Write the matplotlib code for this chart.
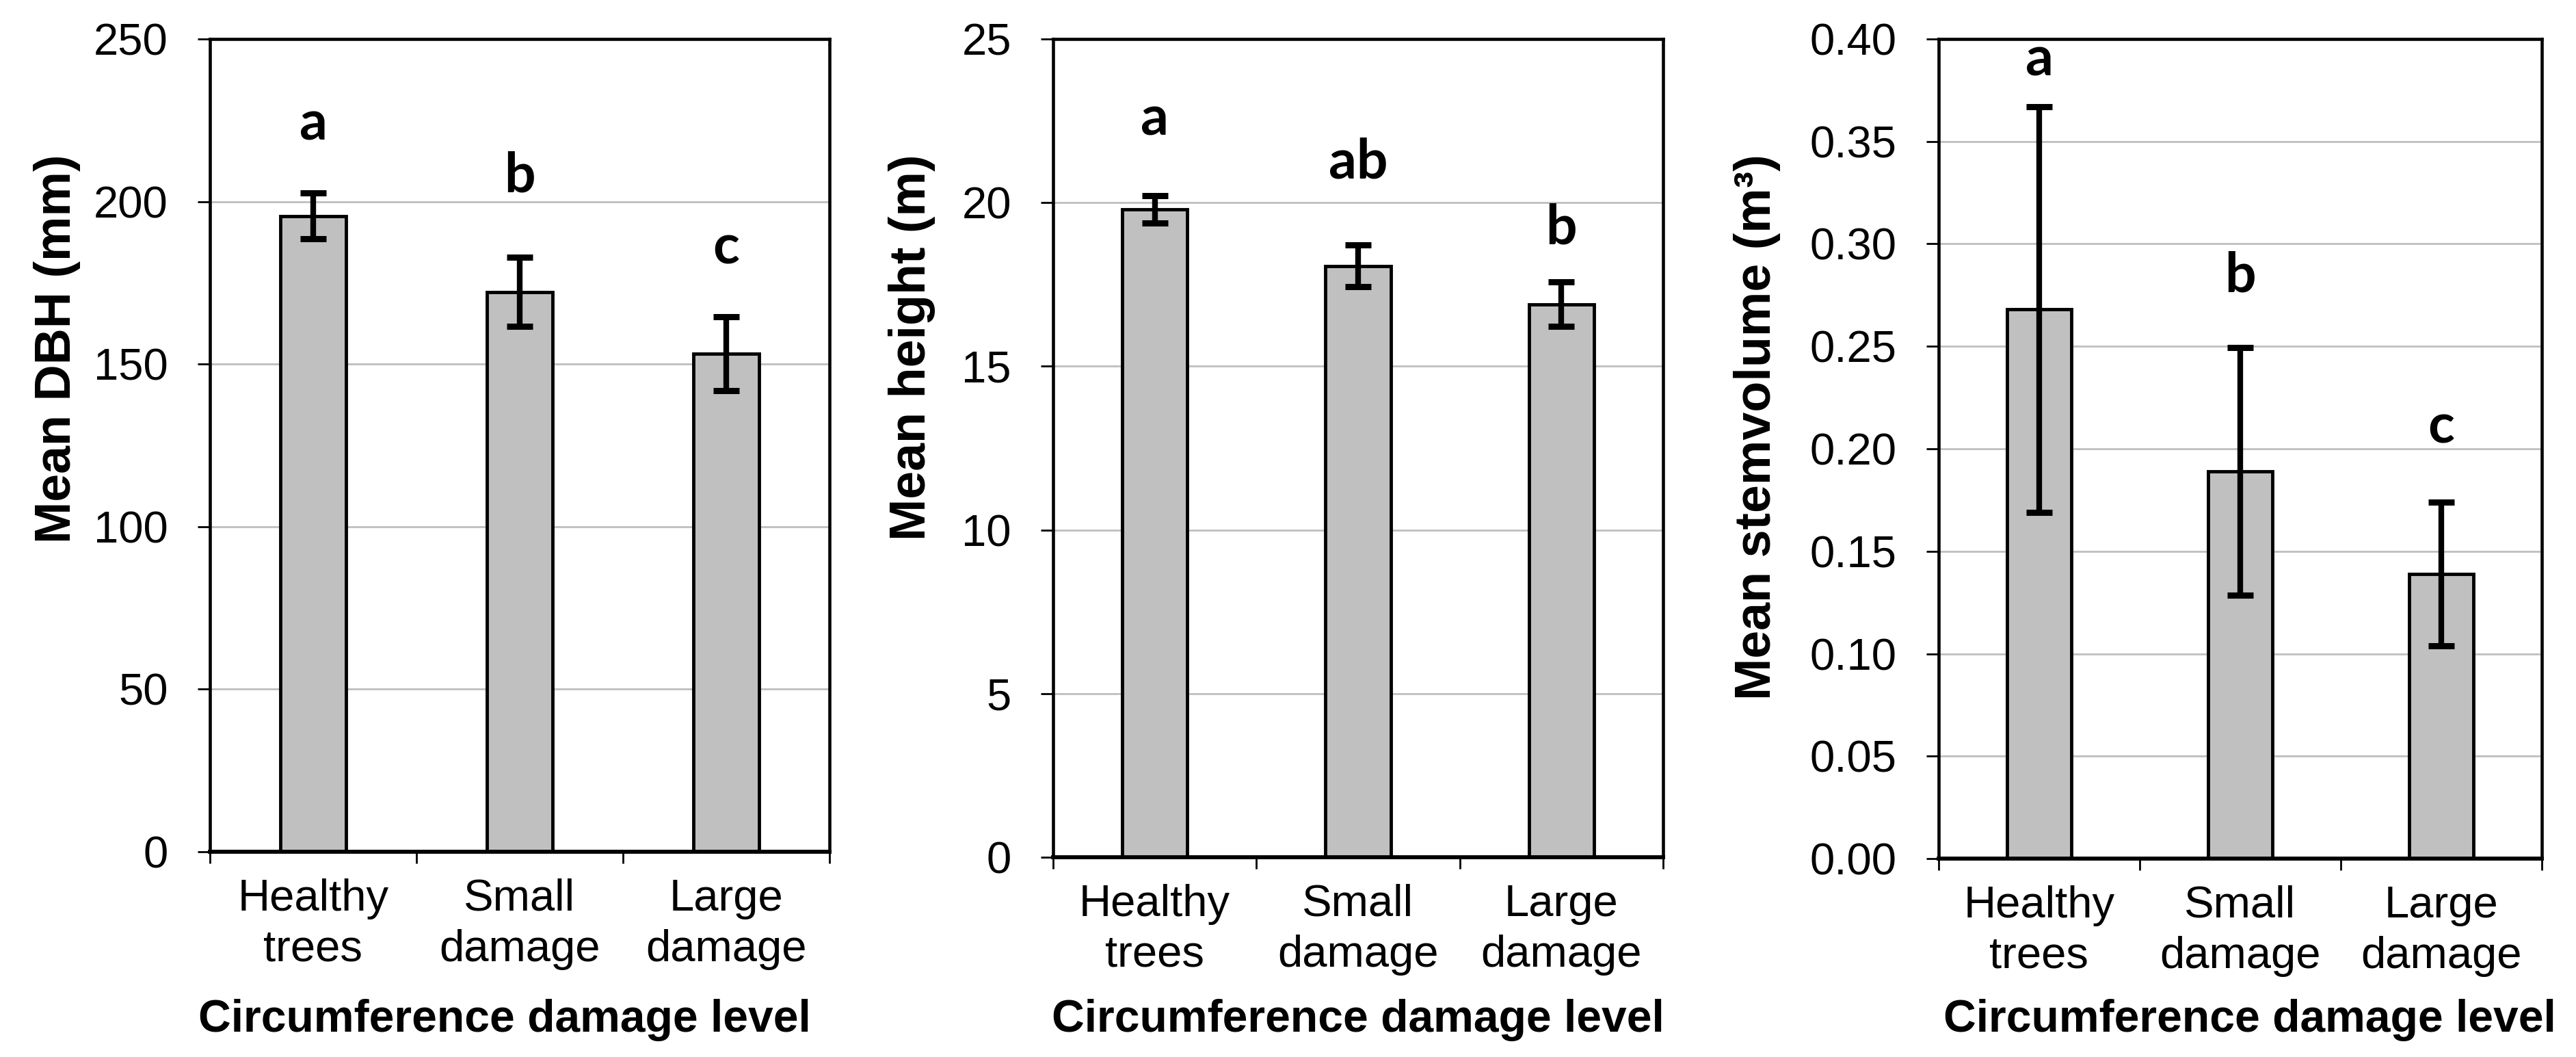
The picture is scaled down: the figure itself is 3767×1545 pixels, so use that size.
import numpy as np
import matplotlib
matplotlib.use('Agg')
import matplotlib.pyplot as plt

# ---------------- data ----------------
categories = ['Healthy\ntrees', 'Small\ndamage', 'Large\ndamage']

dbh_mean = [195.6, 172.2, 153.2]
dbh_err = [7.0, 10.6, 11.3]
dbh_letters = ['a', 'b', 'c']
dbh_letter_y = [218.9, 202.9, 180.8]

height_mean = [19.8, 18.07, 16.9]
height_err = [0.42, 0.63, 0.67]
height_letters = ['a', 'ab', 'b']
height_letter_y = [22.07, 20.75, 18.73]

vol_mean = [0.268, 0.189, 0.139]
vol_err = [0.099, 0.0605, 0.035]
vol_letters = ['a', 'b', 'c']
vol_letter_y = [0.382, 0.2766, 0.203]

W, H = 3767, 1545
plt.rcParams['font.family'] = ['Liberation Sans', 'DejaVu Sans']

fig = plt.figure(figsize=(W / 100, H / 100), dpi=100)


def px_rect(left, right, top, bottom):
    # axes rectangle from pixel edges (origin top-left)
    return [left / W, 1 - bottom / H, (right - left) / W, (bottom - top) / H]


panels = [
    dict(rect=px_rect(307, 1213, 57, 1245), mean=dbh_mean, err=dbh_err,
         letters=dbh_letters, letter_y=dbh_letter_y, ymax=250, step=50,
         fmt='{:.0f}', ylabel='Mean DBH (mm)', ylab_x=84, xlab_x=0.476),
    dict(rect=px_rect(1540, 2432, 57, 1253), mean=height_mean, err=height_err,
         letters=height_letters, letter_y=height_letter_y, ymax=25, step=5,
         fmt='{:.0f}', ylabel='Mean height (m)', ylab_x=1333, xlab_x=0.5),
    dict(rect=px_rect(2835, 3717, 57, 1255), mean=vol_mean, err=vol_err,
         letters=vol_letters, letter_y=vol_letter_y, ymax=0.40, step=0.05,
         fmt='{:.2f}', ylabel='Mean stemvolume (m³)', ylab_x=2570, xlab_x=0.516),
]

x = np.arange(len(categories)) + 0.5

for p in panels:
    ax = fig.add_axes(p['rect'])
    ax.set_xlim(0, 3)
    ax.set_ylim(0, p['ymax'])
    ax.set_axisbelow(True)

    ax.bar(x, p['mean'], width=0.32, color='#c0c0c0', edgecolor='black',
           linewidth=3.5, zorder=2)
    ax.errorbar(x, p['mean'], yerr=p['err'], fmt='none', ecolor='black',
                elinewidth=6, capsize=13.7, capthick=6.5, zorder=3)

    # significance letters
    for xi, s, yi in zip(x, p['letters'], p['letter_y']):
        ax.text(xi, yi, s, ha='center', va='baseline', fontsize=58,
                fontweight='bold', family=['Lato', 'DejaVu Sans'])

    yt = np.arange(0, p['ymax'] + p['step'] / 2, p['step'])
    ax.set_yticks(yt)
    ax.set_yticklabels([p['fmt'].format(v) for v in yt])
    ax.yaxis.grid(True, color='#bfbfbf', linewidth=2)

    # tick marks on category boundaries, labels at category centres
    ax.set_xticks([0, 1, 2, 3])
    ax.set_xticklabels([])
    ax.set_xticks(x, minor=True)
    ax.set_xticklabels(categories, minor=True, fontsize=47, linespacing=1.3)
    ax.tick_params(axis='x', which='major', direction='out', length=12,
                   width=2)
    ax.tick_params(axis='x', which='minor', length=0, pad=28)
    ax.tick_params(axis='y', direction='out', length=13, width=2,
                   labelsize=47, pad=31)

    for side in ['left', 'top', 'right']:
        ax.spines[side].set_linewidth(3.3)
    ax.spines['bottom'].set_linewidth(4.2)

    # x label on a common baseline (1508 px from the top)
    ax.set_xlabel('Circumference damage level', fontsize=47.5,
                  fontweight='bold', va='baseline')
    pos = ax.get_position()
    ax.xaxis.set_label_coords(p['xlab_x'],
                              ((1 - 1508 / H) - pos.y0) / pos.height)

    # y label, its top end at 225 px from the top
    fig.text(p['ylab_x'] / W, 1 - 225 / H, p['ylabel'], rotation=90,
             ha='center', va='top', fontsize=53, fontweight='bold')

fig.savefig('out.png', dpi=100, facecolor='white')
